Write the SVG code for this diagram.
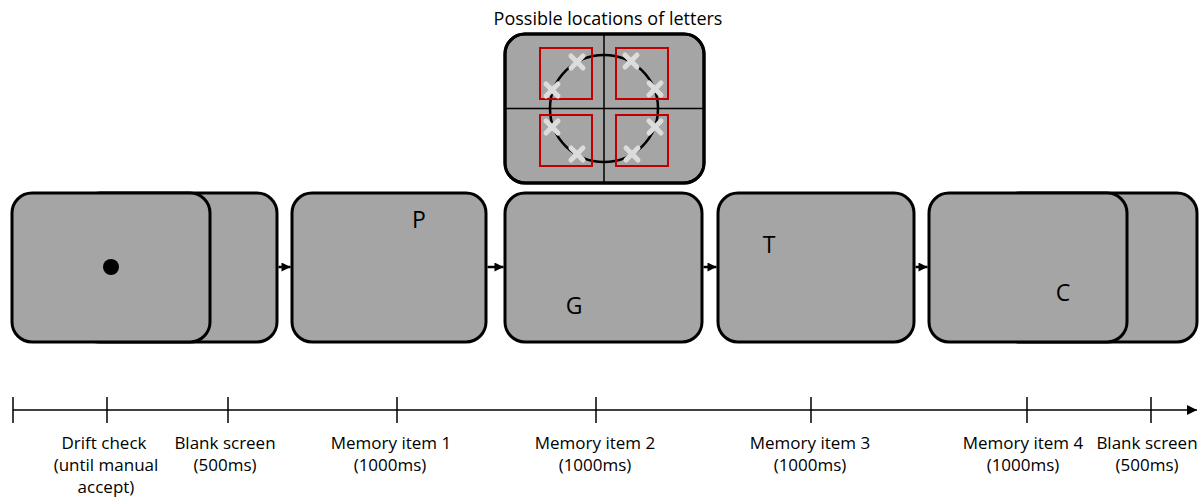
<svg xmlns="http://www.w3.org/2000/svg" width="1203" height="498" viewBox="0 0 1203 498">
  <defs>
    <style>
      .screen { fill: #a5a5a5; stroke: #000; stroke-width: 3; }
      .label { font-family: "Open Sans", "Noto Sans", sans-serif; font-size: 17px; fill: #000; text-anchor: middle; }
      .title { font-family: "Open Sans", "Noto Sans", sans-serif; font-size: 18px; fill: #000; text-anchor: middle; }
      .letter { font-family: "Open Sans", "Noto Sans", sans-serif; font-size: 23px; fill: #000; text-anchor: middle; }
      .conn { stroke: #000; stroke-width: 2.5; fill: none; }
      .axis { stroke: #000; stroke-width: 1.5; fill: none; }
      .slot { fill: none; stroke: #c00000; stroke-width: 2; }
      .xmark { stroke: #dcdcdc; stroke-width: 5; stroke-linecap: round; }
      .quad { stroke: #000; stroke-width: 1.5; }
    </style>
    <marker id="arrow" viewBox="0 0 10 10" refX="10" refY="5" markerWidth="4" markerHeight="3.6" orient="auto" markerUnits="strokeWidth">
      <path d="M0,0 L10,5 L0,10 z" fill="#000"/>
    </marker>
    <marker id="axisArrow" viewBox="0 0 10 10" refX="10" refY="5" markerWidth="7" markerHeight="7" orient="auto" markerUnits="strokeWidth">
      <path d="M0,0 L10,5 L0,10 z" fill="#000"/>
    </marker>
    <g id="cross">
      <line class="xmark" x1="-6" y1="-6" x2="6" y2="6"/>
      <line class="xmark" x1="-6" y1="6" x2="6" y2="-6"/>
    </g>
  </defs>

  <!-- Letter location layout -->
  <g id="locations">
    <text class="title" x="608" y="25">Possible locations of letters</text>
    <rect class="screen" x="505" y="34" width="199" height="149" rx="20"/>
    <line class="quad" x1="604" y1="34" x2="604" y2="183"/>
    <line class="quad" x1="505" y1="108.5" x2="704" y2="108.5"/>
    <ellipse cx="604" cy="108.5" rx="54" ry="53.5" fill="none" stroke="#000" stroke-width="2.5"/>
    <rect class="slot" x="540" y="48" width="52" height="51"/>
    <rect class="slot" x="616" y="48" width="52" height="51"/>
    <rect class="slot" x="540" y="115" width="52" height="51"/>
    <rect class="slot" x="616" y="115" width="52" height="51"/>
    <use href="#cross" x="577" y="62"/>
    <use href="#cross" x="552" y="90"/>
    <use href="#cross" x="631" y="61"/>
    <use href="#cross" x="655" y="89"/>
    <use href="#cross" x="552" y="127"/>
    <use href="#cross" x="577" y="154"/>
    <use href="#cross" x="655" y="127"/>
    <use href="#cross" x="632" y="154"/>
    <rect x="505" y="34" width="199" height="149" rx="20" fill="none" stroke="#000" stroke-width="3"/>
  </g>

  <!-- Drift check + blank screen -->
  <g id="drift-check">
    <rect class="screen" x="80" y="193" width="197" height="149" rx="20"/>
    <rect class="screen" x="12" y="193" width="198" height="149" rx="20"/>
    <circle cx="111" cy="267" r="8" fill="#000"/>
  </g>

  <g id="memory-1">
    <rect class="screen" x="292" y="193" width="194" height="149" rx="20"/>
    <text class="letter" x="419" y="228">P</text>
  </g>

  <g id="memory-2">
    <rect class="screen" x="505" y="193" width="197" height="149" rx="20"/>
    <text class="letter" x="574" y="314">G</text>
  </g>

  <g id="memory-3">
    <rect class="screen" x="718" y="193" width="196" height="149" rx="20"/>
    <text class="letter" x="769" y="253">T</text>
  </g>

  <g id="memory-4">
    <rect class="screen" x="1000" y="193" width="197" height="149" rx="20"/>
    <rect class="screen" x="929" y="193" width="198" height="149" rx="20"/>
    <text class="letter" x="1063" y="301">C</text>
  </g>

  <!-- Transitions between screens -->
  <g id="connectors">
    <line class="conn" x1="278.5" y1="267" x2="290.5" y2="267" marker-end="url(#arrow)"/>
    <line class="conn" x1="487.5" y1="267" x2="503.5" y2="267" marker-end="url(#arrow)"/>
    <line class="conn" x1="703.5" y1="267" x2="716.5" y2="267" marker-end="url(#arrow)"/>
    <line class="conn" x1="915.5" y1="267" x2="927.5" y2="267" marker-end="url(#arrow)"/>
  </g>

  <!-- Timeline -->
  <g id="timeline">
    <line class="axis" x1="13" y1="410" x2="1197" y2="410" marker-end="url(#axisArrow)"/>
    <line class="axis" x1="13" y1="397" x2="13" y2="423"/>
    <line class="axis" x1="107" y1="397" x2="107" y2="423"/>
    <line class="axis" x1="228" y1="397" x2="228" y2="423"/>
    <line class="axis" x1="397" y1="397" x2="397" y2="423"/>
    <line class="axis" x1="596" y1="397" x2="596" y2="423"/>
    <line class="axis" x1="811" y1="397" x2="811" y2="423"/>
    <line class="axis" x1="1027" y1="397" x2="1027" y2="423"/>
    <line class="axis" x1="1151" y1="397" x2="1151" y2="423"/>

    <text class="label" x="104" y="449">Drift check</text>
    <text class="label" x="106" y="471">(until manual</text>
    <text class="label" x="106" y="493">accept)</text>

    <text class="label" x="225" y="449">Blank screen</text>
    <text class="label" x="225" y="471">(500ms)</text>

    <text class="label" x="391" y="449">Memory item 1</text>
    <text class="label" x="390" y="471">(1000ms)</text>

    <text class="label" x="595" y="449">Memory item 2</text>
    <text class="label" x="595" y="471">(1000ms)</text>

    <text class="label" x="810" y="449">Memory item 3</text>
    <text class="label" x="810" y="471">(1000ms)</text>

    <text class="label" x="1023" y="449">Memory item 4</text>
    <text class="label" x="1023" y="471">(1000ms)</text>

    <text class="label" x="1147" y="449">Blank screen</text>
    <text class="label" x="1147" y="471">(500ms)</text>
  </g>
</svg>
